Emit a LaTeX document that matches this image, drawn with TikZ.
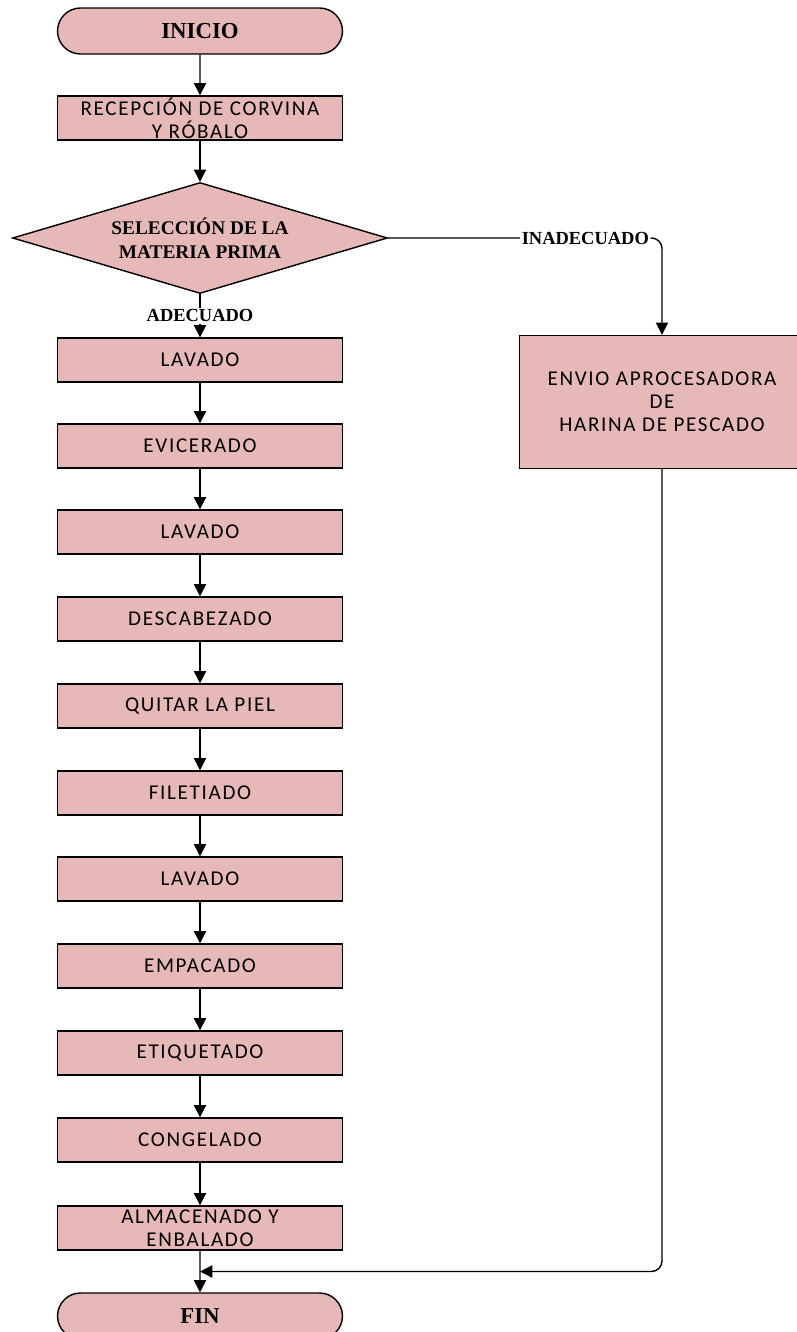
\documentclass[tikz,border=0pt]{standalone}
\usepackage{fontspec}
\setmainfont{Liberation Serif}
\newfontfamily\boxfont{Carlito}[LetterSpace=8]
\usetikzlibrary{arrows.meta,shapes.geometric,shapes.misc,calc}
\definecolor{salmon}{RGB}{230,185,184}
\tikzset{
	base/.style={draw=black, fill=salmon, line width=0.8pt, inner sep=0pt},
	proc/.style={base, rectangle, minimum width=5.7cm, minimum height=0.88cm, align=center,
		font=\boxfont\fontsize{12}{13}\selectfont},
	term/.style={base, rounded rectangle, minimum width=5.7cm, minimum height=0.92cm,
		font=\bfseries\fontsize{13}{15}\selectfont},
	dec/.style={base, diamond, shape aspect=3.4, minimum width=7.5cm, minimum height=2.22cm,
		align=center, font=\bfseries\fontsize{11}{13.5}\selectfont},
	lbl/.style={fill=white, inner sep=1pt, font=\bfseries\fontsize{10.5}{12}\selectfont},
	flow/.style={line width=0.8pt, -{Triangle[length=7pt, width=7pt]}}
}

\begin{document}
\begin{tikzpicture}[x=0.02cm, y=-0.02cm]
			%%%%% START %%%%%
			\useasboundingbox (0, 0) rectangle (797, 1332);
			
			\node[term] (ini) at (200, 31) {INICIO};
			\node[proc] (rec) at (200, 118) {RECEPCIÓN DE CORVINA\\Y RÓBALO};
			\node[dec] (sel) at (200, 238) {SELECCIÓN DE LA\\MATERIA PRIMA};
			
			\node[proc] (lav1) at (200, 360) {LAVADO};
			\node[proc] (evi) at (200, 446) {EVICERADO};
			\node[proc] (lav2) at (200, 532) {LAVADO};
			\node[proc] (des) at (200, 619) {DESCABEZADO};
			\node[proc] (qui) at (200, 706) {QUITAR LA PIEL};
			\node[proc] (fil) at (200, 793) {FILETIADO};
			\node[proc] (lav3) at (200, 879) {LAVADO};
			\node[proc] (emp) at (200, 966) {EMPACADO};
			\node[proc] (eti) at (200, 1053) {ETIQUETADO};
			\node[proc] (con) at (200, 1140) {CONGELADO};
			\node[proc] (alm) at (200, 1228) {ALMACENADO Y\\ENBALADO};
			\node[term] (fin) at (200, 1316) {FIN};
			
			\node[proc, minimum height=2.66cm] (env) at (662, 402) {ENVIO APROCESADORA\\DE\\HARINA DE PESCADO};
			
			\draw[flow] (ini) -- (rec);
			\draw[flow] (rec) -- (sel.north);
			\draw[flow] (sel.south) -- node[lbl] {ADECUADO} (lav1);
			\draw[flow, rounded corners=6pt] (sel.east) -| node[lbl, pos=0.36] {INADECUADO} (env.north);
			
			\draw[flow] (lav1) -- (evi);
			\draw[flow] (evi) -- (lav2);
			\draw[flow] (lav2) -- (des);
			\draw[flow] (des) -- (qui);
			\draw[flow] (qui) -- (fil);
			\draw[flow] (fil) -- (lav3);
			\draw[flow] (lav3) -- (emp);
			\draw[flow] (emp) -- (eti);
			\draw[flow] (eti) -- (con);
			\draw[flow] (con) -- (alm);
			\draw[flow] (alm) -- (fin);
			
			\coordinate (mrg) at ($(alm.south)!0.5!(fin.north)$);
			\draw[flow, rounded corners=6pt] (env.south) |- (mrg);
			
			%%%%% END %%%%%
\end{tikzpicture}
\end{document}
